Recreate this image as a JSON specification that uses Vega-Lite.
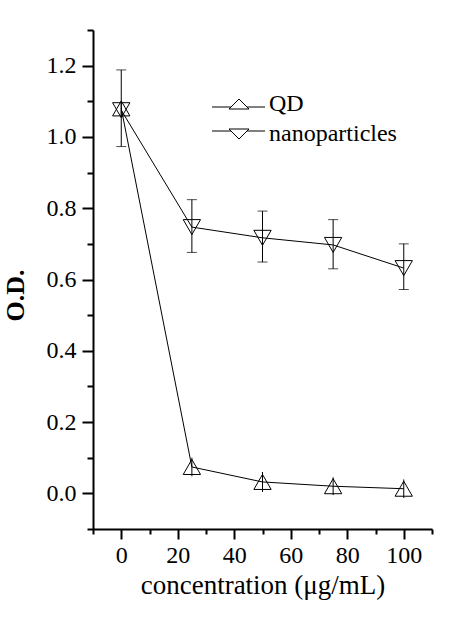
{
  "$schema": "https://vega.github.io/schema/vega-lite/v6.json",
  "width": 339,
  "height": 499,
  "autosize": "none",
  "padding": {"left": 93, "top": 30, "right": 18, "bottom": 90},
  "background": "white",
  "config": {
    "view": {"stroke": null},
    "font": "Liberation Serif",
    "axis": {
      "domainColor": "black",
      "domainWidth": 2,
      "tickColor": "black",
      "tickWidth": 2,
      "labelColor": "black",
      "labelFont": "Liberation Serif",
      "labelFontSize": 24,
      "titleFont": "Liberation Serif",
      "titleColor": "black",
      "grid": false
    }
  },
  "data": {
    "values": [
      {"series": "QD", "x": 0, "y": 1.08, "lo": 1.06, "hi": 1.10},
      {"series": "QD", "x": 25, "y": 0.074, "lo": 0.048, "hi": 0.10},
      {"series": "QD", "x": 50, "y": 0.032, "lo": 0.004, "hi": 0.06},
      {"series": "QD", "x": 75, "y": 0.02, "lo": -0.005, "hi": 0.045},
      {"series": "QD", "x": 100, "y": 0.013, "lo": -0.013, "hi": 0.039},
      {"series": "nanoparticles", "x": 0, "y": 1.075, "lo": 0.973, "hi": 1.188},
      {"series": "nanoparticles", "x": 25, "y": 0.747, "lo": 0.676, "hi": 0.824},
      {"series": "nanoparticles", "x": 50, "y": 0.717, "lo": 0.649, "hi": 0.792},
      {"series": "nanoparticles", "x": 75, "y": 0.697, "lo": 0.63, "hi": 0.768},
      {"series": "nanoparticles", "x": 100, "y": 0.632, "lo": 0.572, "hi": 0.70}
    ]
  },
  "encoding": {
    "x": {
      "field": "x",
      "type": "quantitative",
      "title": "concentration (μg/mL)",
      "scale": {"domain": [-10, 110], "nice": false, "zero": false},
      "axis": {
        "values": [-10, 0, 10, 20, 30, 40, 50, 60, 70, 80, 90, 100, 110],
        "labelExpr": "datum.value % 20 === 0 ? datum.label : ''",
        "tickSize": {"condition": {"test": "datum.value % 20 === 0", "value": 10}, "value": 5},
        "labelPadding": 4,
        "titleFontSize": 27,
        "titleFontWeight": "normal",
        "titlePadding": 5
      }
    },
    "y": {
      "field": "y",
      "type": "quantitative",
      "title": "O.D.",
      "scale": {"domain": [-0.1, 1.3], "nice": false, "zero": false},
      "axis": {
        "values": [-0.1, 0, 0.1, 0.2, 0.3, 0.4, 0.5, 0.6, 0.7, 0.8, 0.9, 1.0, 1.1, 1.2, 1.3],
        "format": ".1f",
        "labelExpr": "(abs(datum.value * 10 % 2) < 0.5 || abs(datum.value * 10 % 2) > 1.5) && datum.value > -0.05 && datum.value < 1.25 ? datum.label : ''",
        "tickSize": {"condition": {"test": "abs(datum.value * 10 % 2) < 0.5 || abs(datum.value * 10 % 2) > 1.5", "value": 11}, "value": 6},
        "labelPadding": 6,
        "titleFontSize": 26,
        "titleFontWeight": "bold",
        "titleBaseline": "alphabetic",
        "titleX": -70,
        "titleY": 265
      }
    }
  },
  "layer": [
    {
      "mark": {"type": "line", "color": "black", "strokeWidth": 1},
      "encoding": {
        "detail": {"field": "series"}
      }
    },
    {
      "mark": {"type": "rule", "color": "black", "strokeWidth": 1},
      "encoding": {
        "y": {"field": "lo", "type": "quantitative", "title": "O.D."},
        "y2": {"field": "hi"}
      }
    },
    {
      "transform": [{"filter": "datum.series === 'nanoparticles'"}],
      "mark": {"type": "tick", "orient": "horizontal", "color": "black", "thickness": 1, "size": 10},
      "encoding": {
        "y": {"field": "lo", "type": "quantitative", "title": "O.D."}
      }
    },
    {
      "transform": [{"filter": "datum.series === 'nanoparticles'"}],
      "mark": {"type": "tick", "orient": "horizontal", "color": "black", "thickness": 1, "size": 10},
      "encoding": {
        "y": {"field": "hi", "type": "quantitative", "title": "O.D."}
      }
    },
    {
      "mark": {"type": "point", "filled": false, "color": "black", "strokeWidth": 1, "size": 300, "opacity": 1},
      "encoding": {
        "shape": {
          "field": "series",
          "type": "nominal",
          "scale": {"domain": ["QD", "nanoparticles"], "range": ["triangle-up", "triangle-down"]},
          "legend": null
        }
      }
    },
    {
      "transform": [{"filter": "datum.x < -1000"}],
      "mark": {"type": "point", "filled": false, "color": "black", "strokeWidth": 1, "opacity": 1},
      "encoding": {
        "shape": {
          "field": "series",
          "type": "nominal",
          "scale": {
            "domain": ["QD", "nanoparticles"],
            "range": [
              "M-2.7,0.3H-0.82M0.82,0.3H2.6M0,-0.5L1,0.5L-1,0.5Z",
              "M-2.7,-0.3H-0.82M0.82,-0.3H2.6M0,0.5L1,-0.5L-1,-0.5Z"
            ]
          },
          "legend": {
            "title": null,
            "orient": "none",
            "legendX": 134,
            "legendY": 62,
            "padding": 0,
            "symbolSize": 400,
            "symbolStrokeColor": "black",
            "symbolFillColor": "transparent",
            "symbolStrokeWidth": 1,
            "symbolOpacity": 1,
            "labelFont": "Liberation Serif",
            "labelFontSize": 24,
            "labelColor": "black",
            "labelOffset": 18,
            "rowPadding": 6
          }
        }
      }
    }
  ],
  "resolve": {"scale": {"shape": "independent"}}
}
